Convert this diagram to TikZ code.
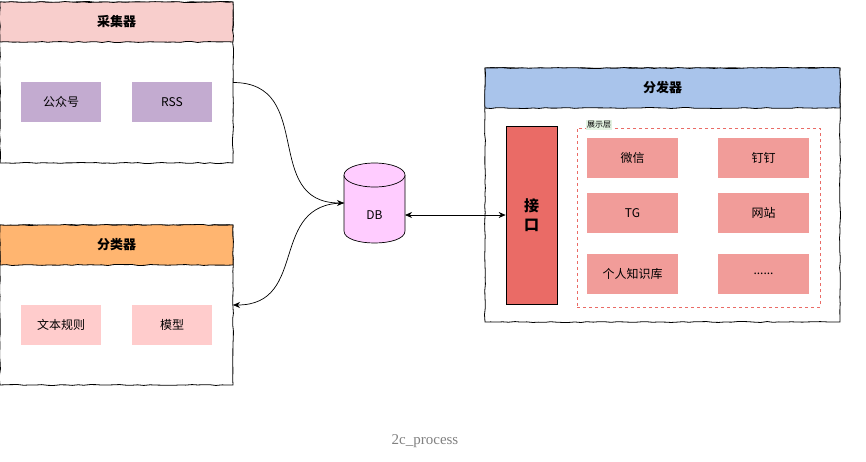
\documentclass[tikz,border=0pt]{standalone}
\usepackage{fontspec}
\setmainfont{Noto Sans CJK SC}
\newfontfamily\capfont{Liberation Serif}
\usetikzlibrary{shapes.geometric, arrows.meta, positioning, decorations.pathmorphing}
\definecolor{collecthead}{HTML}{F8CECC}
\definecolor{collectitem}{HTML}{C3ABD0}
\definecolor{classhead}{HTML}{FFB570}
\definecolor{classitem}{HTML}{FFCCCC}
\definecolor{sendhead}{HTML}{A9C4EB}
\definecolor{ifacered}{HTML}{EA6B66}
\definecolor{showred}{HTML}{F19C99}
\definecolor{dbpink}{HTML}{FFCCFF}
\definecolor{layergreen}{HTML}{E3F2E1}
\newcommand{\moredots}{......}

\begin{document}
\begin{tikzpicture}[x=1pt, y=-1pt,
    sketch/.style={decorate, decoration={random steps, segment length=6pt, amplitude=0.5pt}},
    container/.style={draw, fill=white, line width=0.8pt, inner sep=0pt, outer sep=0pt, sketch},
    headbar/.style={draw, line width=0.8pt, inner sep=0pt, outer sep=0pt, font=\bfseries\fontsize{13}{15}\selectfont, sketch},
    itembox/.style={inner sep=0pt, outer sep=0pt, minimum width=80, minimum height=40, font=\fontsize{12}{14}\selectfont},
    showitem/.style={fill=showred, inner sep=0pt, outer sep=0pt, minimum width=91, minimum height=40, font=\fontsize{12}{14}\selectfont},
    link/.style={line width=0.7pt, -{Stealth[length=7pt, width=6pt]}}]
    \pgfmathsetseed{7}
    \useasboundingbox (0,0) rectangle (866,461);

    % Collector
    \node[container, minimum width=233, minimum height=161] (collector) at (116.5,82.5) {};
    \node[headbar, fill=collecthead, minimum width=233, minimum height=40] (collectorhead) at (116.5,22) {采集器};
    \node[itembox, fill=collectitem] (gzh) at (61,102) {公众号};
    \node[itembox, fill=collectitem] (rss) at (172,102) {RSS};

    % Classifier
    \node[container, minimum width=233, minimum height=160] (classifier) at (116.5,305) {};
    \node[headbar, fill=classhead, minimum width=233, minimum height=40] (classifierhead) at (116.5,245) {分类器};
    \node[itembox, fill=classitem] (rule) at (61,325) {文本规则};
    \node[itembox, fill=classitem] (model) at (172,325) {模型};

    % Database
    \node[minimum width=61, minimum height=80, inner sep=0pt, outer sep=0pt] (db) at (374.5,203) {};
    \draw[fill=dbpink, line width=0.7pt] (344,175) -- (344,231) .. controls (344,247) and (405,247) .. (405,231) -- (405,175);
    \draw[fill=dbpink, line width=0.7pt] (374.5,175) ellipse [x radius=30.5, y radius=12];
    \node[font=\fontsize{12}{14}\selectfont] (dblabel) at (374.5,215) {DB};

    % Dispatcher
    \node[container, minimum width=355, minimum height=254] (dispatcher) at (662.5,195) {};
    \node[headbar, fill=sendhead, minimum width=355, minimum height=40] (dispatcherhead) at (662.5,88) {分发器};
    \node[draw, fill=ifacered, line width=0.7pt, minimum width=51, minimum height=178, inner sep=0pt,
          align=center, font=\bfseries\fontsize{15}{19}\selectfont] (iface) at (531.5,215) {接\\口};
    \node[draw=ifacered, dashed, line width=0.6pt, minimum width=243, minimum height=179, inner sep=0pt] (showlayer) at (698.5,217.5) {};
    \node[fill=layergreen, inner sep=1pt, anchor=west, font=\fontsize{8}{9}\selectfont] (showlabel) at (586,125) {展示层};
    \foreach \n/\x/\y/\t in {wechat/632.5/157.5/微信, dingtalk/763.5/157.5/钉钉, tg/632.5/213/TG,
                             website/763.5/213/网站, kb/632.5/274/个人知识库, more/763.5/274/\moredots} {
        \node[showitem] (\n) at (\x,\y) {\t};
    }

    % Links
    \draw[link] (collector.east) to[out=0, in=180, looseness=1.3] (db.west);
    \draw[link] (db.west) to[out=180, in=0, looseness=1.3] (classifier.east);
    \draw[link, {Stealth[length=7pt, width=6pt]}-{Stealth[length=7pt, width=6pt]}] (db.east |- iface.west) -- (iface.west);

    % Caption
    \node[font=\capfont\fontsize{15}{17}\selectfont, text=black!50] (caption) at (425,441) {2c\_process};
\end{tikzpicture}
\end{document}
